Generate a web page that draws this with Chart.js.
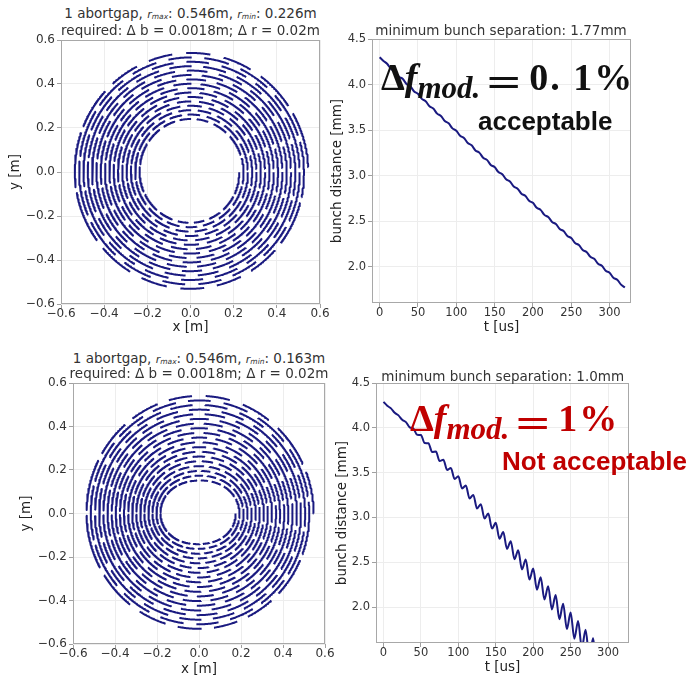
<!DOCTYPE html>
<html>
<head>
<meta charset="utf-8">
<script src="https://cdn.jsdelivr.net/npm/chart.js@4.4.1/dist/chart.umd.min.js"></script>
<style>
  html, body { margin:0; padding:0; background:#ffffff; width:692px; height:675px; overflow:hidden; }
  body { position:relative; font-family:"DejaVu Sans", sans-serif; }
  canvas { position:absolute; }
  .ttl { position:absolute; transform:translateX(-50%); white-space:nowrap; font-size:13.5px; line-height:16px; color:#333; }
  .ttl i { font-size:11px; }
  .ttl sub { font-size:7.5px; font-style:italic; vertical-align:-1px; line-height:0; }
  .fm { position:absolute; white-space:nowrap; font-family:"Liberation Serif", serif; font-weight:bold; font-size:38px; line-height:38px; }
  .fm .it { font-style:italic; }
  .fm .sb { font-style:italic; font-size:31px; position:relative; top:8px; }
  .fm .eq { display:inline-block; font-size:42px; transform:scaleX(1.45); position:relative; top:6px; margin:0 13px 0 12px; }
  .fm .num { letter-spacing:2px; }
  .lbl { position:absolute; white-space:nowrap; font-family:"Liberation Sans", Arial, sans-serif; font-weight:bold; font-size:26px; line-height:26px; }
</style>
</head>
<body>
<canvas id="cA" width="333" height="306" style="left:7px;top:30px;"></canvas>
<canvas id="cB" width="322" height="307" style="left:329px;top:29px;"></canvas>
<canvas id="cC" width="327" height="305" style="left:18px;top:373px;"></canvas>
<canvas id="cD" width="315" height="303" style="left:334px;top:373px;"></canvas>

<div class="ttl" style="left:190.5px;top:5px;">1 abortgap, <i>r</i><sub>max</sub>: 0.546m, <i>r</i><sub>min</sub>: 0.226m</div>
<div class="ttl" style="left:190.5px;top:21.5px;">required: Δ b = 0.0018m; Δ r = 0.02m</div>
<div class="ttl" style="left:501px;top:22px;">minimum bunch separation: 1.77mm</div>
<div class="ttl" style="left:199px;top:350px;">1 abortgap, <i>r</i><sub>max</sub>: 0.546m, <i>r</i><sub>min</sub>: 0.163m</div>
<div class="ttl" style="left:199px;top:364.5px;">required: Δ b = 0.0018m; Δ r = 0.02m</div>
<div class="ttl" style="left:502.7px;top:367.5px;">minimum bunch separation: 1.0mm</div>

<div class="fm" style="left:381px;top:57px;color:#111;">Δ<span class="it">f</span><span class="sb">mod.</span><span class="eq">=</span><span class="num">0. 1%</span></div>
<div class="lbl" style="left:478px;top:108px;color:#111;">acceptable</div>
<div class="fm" style="left:410px;top:398px;color:#c00000;">Δ<span class="it">f</span><span class="sb">mod.</span><span class="eq">=</span><span class="num">1%</span></div>
<div class="lbl" style="left:502px;top:448px;color:#c00000;">Not acceptable</div>

<script>
// ---------------- data ----------------
const spiralTicks = [-0.6, -0.4, -0.2, 0.0, 0.2, 0.4, 0.6];
const timeTicks = [0, 50, 100, 150, 200, 250, 300];
const distTicks = [2.0, 2.5, 3.0, 3.5, 4.0, 4.5];

// radius of the orbit at the start of each turn (angle 0) [m]
const spiralA_turnRadius = [0.546, 0.526, 0.506, 0.486, 0.466, 0.446, 0.426, 0.406, 0.386,
                            0.366, 0.346, 0.326, 0.306, 0.286, 0.266, 0.246, 0.226];
const spiralA_turnEllipticity = [0, 0, 0, 0, 0, 0, 0, 0, 0, 0, 0, 0, 0, 0, 0, 0, 0];
const spiralB_turnRadius = [0.546, 0.525, 0.505, 0.484, 0.464, 0.443, 0.422, 0.402, 0.381, 0.361,
                            0.340, 0.319, 0.299, 0.278, 0.258, 0.237, 0.216, 0.196, 0.175, 0.155];
const spiralB_turnEllipticity = [0, 0.0002, 0.0007, 0.0012, 0.0019, 0.0026, 0.0035, 0.0044, 0.0053, 0.0064,
                                 0.0074, 0.0086, 0.0098, 0.011, 0.0123, 0.0137, 0.0151, 0.0165, 0.018, 0.0195];
// bunch train pattern along the orbit
const bunchesPerTurn = [15.5, 15.5];      // top, bottom
const bunchPhase = [0.0, 0.3];            // top, bottom
const gapFraction = [0.07, 0.34];         // at sides (x axis), at top/bottom (y axis)
const angularWarp = [0.25];

// bunch distance vs time
const tUs = [0,5,10,15,20,25,30,35,40,45,50,55,60,65,70,75,80,85,90,95,100,105,110,115,120,125,130,135,140,145,
  150,155,160,165,170,175,180,185,190,195,200,205,210,215,220,225,230,235,240,245,250,255,260,265,270,275,280,285,
  290,295,300,305,310,315,320];
const distA = [4.300,4.259,4.226,4.169,4.144,4.087,4.063,4.006,3.981,3.924,3.899,3.842,3.817,3.761,3.736,3.680,
  3.655,3.599,3.574,3.518,3.493,3.437,3.413,3.357,3.332,3.276,3.252,3.196,3.172,3.117,3.093,3.038,3.014,2.959,
  2.935,2.880,2.856,2.801,2.778,2.723,2.700,2.646,2.623,2.568,2.545,2.491,2.468,2.414,2.391,2.337,2.314,2.260,
  2.237,2.183,2.161,2.107,2.085,2.031,2.009,1.954,1.932,1.878,1.856,1.802,1.770];
const distB = [4.290,4.246,4.217,4.168,4.139,4.090,4.064,4.006,3.992,3.922,3.920,3.830,3.828,3.730,3.736,3.630,
  3.644,3.530,3.552,3.430,3.460,3.324,3.356,3.212,3.252,3.100,3.148,2.988,3.044,2.876,2.940,2.763,2.838,2.649,
  2.736,2.535,2.634,2.421,2.532,2.307,2.430,2.195,2.332,2.085,2.234,1.975,2.136,1.865,2.038,1.755,1.940,1.648,
  1.844,1.544,1.748,1.440,1.652,1.336,1.556,1.232,1.460,1.128,1.364,1.024,1.270];

// ---------------- drawing ----------------
const INK = '#1a1a80';

function spiralPoints(R, E, perTurn, phase) {
  const pts = [];
  const step = 0.008;
  const warp = angularWarp[0];
  let on = false;
  for (let k = 0; k < R.length - 1; k++) {
    for (let th = 0; th < 2 * Math.PI; th += step) {
      const f = th / (2 * Math.PI);
      const r0 = R[k] + (R[k + 1] - R[k]) * f;
      const e = E[k] + (E[k + 1] - E[k]) * f;
      const r = r0 + e * Math.cos(2 * th);
      const u = k * 2 * Math.PI + th - warp / 2 * Math.sin(2 * th);
      const p = u * perTurn / (2 * Math.PI) + phase;
      const frac = p - Math.floor(p);
      const s = Math.sin(th);
      const gap = gapFraction[0] + (gapFraction[1] - gapFraction[0]) * s * s;
      const isOn = frac >= gap;
      if (isOn) pts.push({ x: r * Math.cos(th), y: r * Math.sin(th) });
      else if (on) pts.push({ x: NaN, y: NaN });
      on = isOn;
    }
  }
  return pts;
}

const framePlugin = {
  id: 'frame',
  afterDatasetsDraw(chart) {
    const { ctx, chartArea: a } = chart;
    ctx.save();
    ctx.strokeStyle = '#a8a8a8';
    ctx.lineWidth = 1;
    ctx.strokeRect(Math.round(a.left) + 0.5, Math.round(a.top) + 0.5,
                   Math.round(a.right - a.left) - 1, Math.round(a.bottom - a.top) - 1);
    ctx.restore();
  }
};

function makeScale(o) {
  return {
    type: 'linear', min: o.min, max: o.max,
    afterBuildTicks: s => { s.ticks = o.ticks.map(v => ({ value: v })); },
    afterFit: s => { if (o.horizontal) s.height = o.size; else s.width = o.size; },
    grid: { color: '#ededed', lineWidth: 1, drawTicks: true, tickLength: 4, tickColor: '#a0a0a0' },
    border: { display: false },
    ticks: {
      color: '#333', autoSkip: false, maxRotation: 0, padding: o.pad,
      font: { family: 'DejaVu Sans', size: o.fs, lineHeight: 1 },
      callback: o.fmt
    },
    title: { display: true, text: o.label, color: '#222',
             font: { family: 'DejaVu Sans', size: 13.5, lineHeight: 1.2 }, padding: 0 }
  };
}

const fmtM = v => v.toFixed(1).replace('-', '\u2212');
const fmtT = v => String(v);

function makeChart(id, datasets, xs, ys) {
  return new Chart(document.getElementById(id), {
    type: 'scatter',
    data: { datasets },
    options: {
      responsive: false, animation: false, devicePixelRatio: 1, events: [],
      layout: { padding: { top: 10, right: 20, left: 0, bottom: 0 } },
      plugins: { legend: { display: false }, tooltip: { enabled: false } },
      scales: { x: makeScale(xs), y: makeScale(ys) }
    },
    plugins: [framePlugin]
  });
}

function spiralDataset(R, E, idx) {
  return { data: spiralPoints(R, E, bunchesPerTurn[idx], bunchPhase[idx]), showLine: true,
           borderColor: INK, borderWidth: 2.0, pointRadius: 0, borderCapStyle: 'butt',
           borderJoinStyle: 'round', spanGaps: false };
}
function lineDataset(ys) {
  return { data: tUs.map((t, i) => ({ x: t, y: ys[i] })), showLine: true, borderColor: INK,
           borderWidth: 2, pointRadius: 0, cubicInterpolationMode: 'monotone' };
}

makeChart('cA', [spiralDataset(spiralA_turnRadius, spiralA_turnEllipticity, 0)],
  { min: -0.6, max: 0.6, ticks: spiralTicks, fmt: fmtM, label: 'x [m]', horizontal: true, size: 32, fs: 12, pad: 0 },
  { min: -0.6, max: 0.6, ticks: spiralTicks, fmt: fmtM, label: 'y [m]', horizontal: false, size: 54, fs: 12, pad: 2 });
makeChart('cB', [lineDataset(distA)],
  { min: -10, max: 328, ticks: timeTicks, fmt: fmtT, label: 't [us]', horizontal: true, size: 33, fs: 11.5, pad: 0 },
  { min: 1.6, max: 4.5, ticks: distTicks, fmt: v => v.toFixed(1), label: 'bunch distance [mm]', horizontal: false, size: 43, fs: 11.5, pad: 2 });
makeChart('cC', [spiralDataset(spiralB_turnRadius, spiralB_turnEllipticity, 1)],
  { min: -0.6, max: 0.6, ticks: spiralTicks, fmt: fmtM, label: 'x [m]', horizontal: true, size: 34, fs: 12, pad: 0 },
  { min: -0.6, max: 0.6, ticks: spiralTicks, fmt: fmtM, label: 'y [m]', horizontal: false, size: 55, fs: 12, pad: 2 });
makeChart('cD', [lineDataset(distB)],
  { min: -10, max: 328, ticks: timeTicks, fmt: fmtT, label: 't [us]', horizontal: true, size: 33, fs: 11.5, pad: 0 },
  { min: 1.6, max: 4.5, ticks: distTicks, fmt: v => v.toFixed(1), label: 'bunch distance [mm]', horizontal: false, size: 42, fs: 11.5, pad: 2 });
</script>
</body>
</html>
